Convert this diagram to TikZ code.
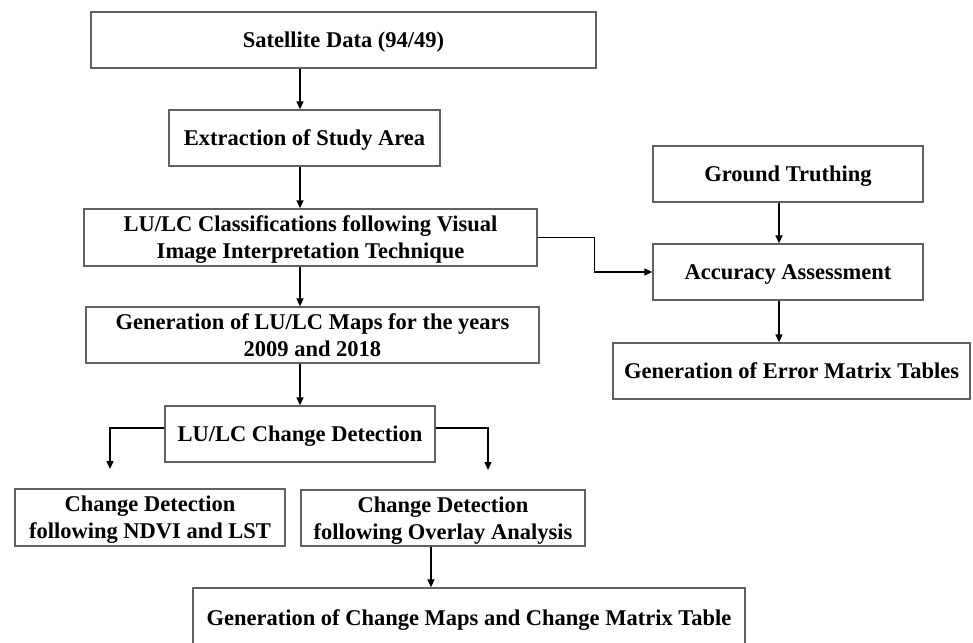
\documentclass[tikz,border=0pt]{standalone}
\usepackage{fontspec}
\setmainfont{Liberation Serif}
\usetikzlibrary{arrows.meta}
\definecolor{boxgray}{rgb}{0.38,0.38,0.38}

\begin{document}
\begin{tikzpicture}[x=1pt,y=-1pt,
  box/.style={draw=boxgray, line width=1.3pt, inner sep=0pt, align=center,
    text depth=-2pt, font=\fontsize{22.5}{27}\selectfont\bfseries},
  arr/.style={line width=1.4pt, -{Triangle[length=8pt,width=7pt]}}]
  \useasboundingbox (0,0) rectangle (973,642);
  \clip (0,0) rectangle (973,642);

  % Main column
  \node[box, minimum width=505pt, minimum height=56pt] (sat) at (343.5,40) {Satellite Data (94/49)};
  \node[box, minimum width=271pt, minimum height=56pt] (ext) at (304.5,138) {Extraction of Study Area};
  \node[box, minimum width=453pt, minimum height=57pt] (cls) at (310.5,237.5) {LU/LC Classifications following Visual\\Image Interpretation Technique};
  \node[box, minimum width=453pt, minimum height=56pt] (maps) at (312.5,335) {Generation of LU/LC Maps for the years\\2009 and 2018};
  \node[box, minimum width=270pt, minimum height=56pt] (chg) at (300,434) {LU/LC Change Detection};
  \node[box, minimum width=270pt, minimum height=57pt] (ndvi) at (150,517.5) {Change Detection\\following NDVI and LST};
  \node[box, minimum width=284pt, minimum height=56pt] (ovl) at (443,518) {Change Detection\\following Overlay Analysis};
  \node[box, minimum width=552pt, minimum height=60pt] (cmap) at (469,618) {Generation of Change Maps and Change Matrix Table};

  % Right column
  \node[box, minimum width=270pt, minimum height=56pt] (gt) at (788,174) {Ground Truthing};
  \node[box, minimum width=270pt, minimum height=56pt] (acc) at (788,272) {Accuracy Assessment};
  \node[box, minimum width=357pt, minimum height=56pt] (err) at (791.5,371) {Generation of Error Matrix Tables};

  \coordinate (ltip) at (110,469);
  \coordinate (rtip) at (488,470);

  % Arrows
  \draw[arr] (sat.south -| chg.north) -- (ext.north -| chg.north);
  \draw[arr] (ext.south -| chg.north) -- (cls.north -| chg.north);
  \draw[arr] (cls.south -| chg.north) -- (maps.north -| chg.north);
  \draw[arr] (maps.south -| chg.north) -- (chg.north);
  \draw[arr] ([yshift=6pt]chg.west) -| (ltip);
  \draw[arr] ([yshift=6pt]chg.east) -| (rtip);
  \draw[arr] ([xshift=-12pt]ovl.south) -- ([xshift=-12pt]ovl.south |- cmap.north);
  \draw[arr] (cls.east) -- ++(57,0) |- (acc.west);
  \draw[arr] ([xshift=-9pt]gt.south) -- ([xshift=-9pt]acc.north);
  \draw[arr] ([xshift=-9pt]acc.south) -- ([xshift=-9pt]acc.south |- err.north);
\end{tikzpicture}
\end{document}
